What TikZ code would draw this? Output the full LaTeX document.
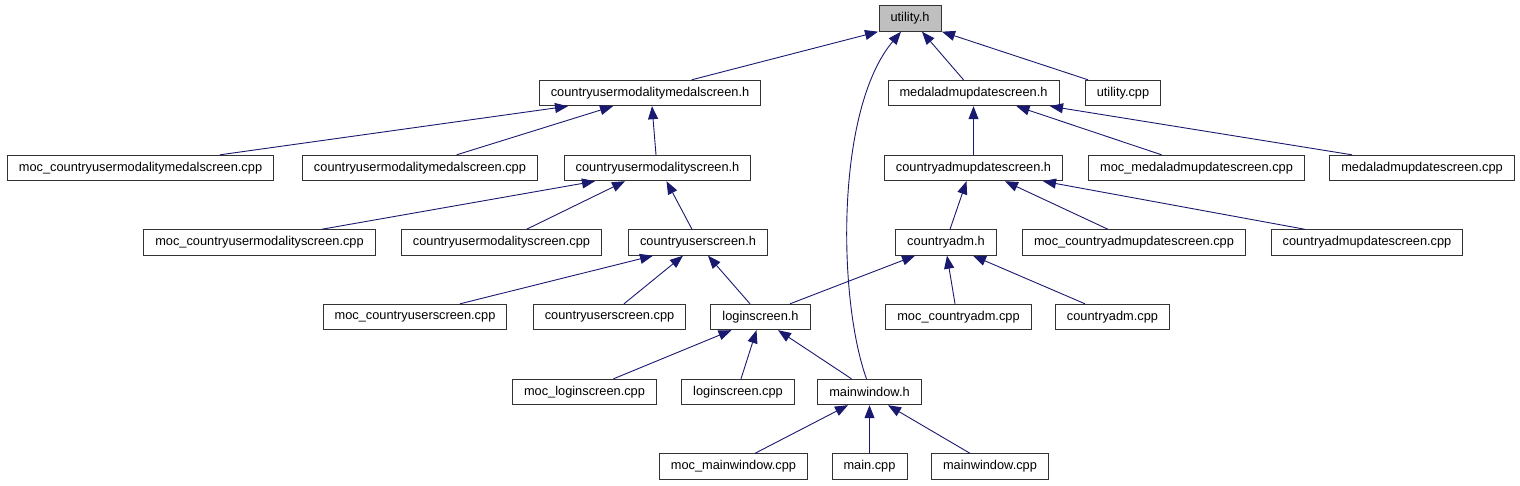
\documentclass[tikz,border=0pt]{standalone}
\usepackage{fontspec}
\setmainfont{Liberation Sans}
\usepackage{xcolor}
\usetikzlibrary{arrows.meta, positioning, calc}
\definecolor{edgeblue}{HTML}{191970}
\definecolor{rootgray}{HTML}{BFBFBF}

\begin{document}
\begin{tikzpicture}[x=1pt, y=-1pt,
    file/.style={draw=black!80, line width=0.9pt, rectangle, inner xsep=11.5pt, inner ysep=0pt,
        minimum height=25.5pt, font=\fontsize{12.8}{15}\selectfont},
    dep/.style={draw=edgeblue, line width=0.9pt, -{Triangle[length=13pt, width=10pt]}}]
    \useasboundingbox (0,0) rectangle (1520,485);

    \node[file, fill=rootgray] (util) at (910,18.5) {utility.h};

    \node[file] (cumms)   at (650,93)    {countryusermodalitymedalscreen.h};
    \node[file] (medal)   at (973.5,93)  {medaladmupdatescreen.h};
    \node[file] (utilcpp) at (1123,93)   {utility.cpp};

    \node[file] (moccummscpp) at (140.5,168)  {moc\_countryusermodalitymedalscreen.cpp};
    \node[file] (cummscpp)    at (420,168)    {countryusermodalitymedalscreen.cpp};
    \node[file] (cums)        at (657.5,168)  {countryusermodalityscreen.h};
    \node[file] (cadmup)      at (973.5,168)  {countryadmupdatescreen.h};
    \node[file] (mocmedalcpp) at (1196.5,168) {moc\_medaladmupdatescreen.cpp};
    \node[file] (medalcpp)    at (1422,168)   {medaladmupdatescreen.cpp};

    \node[file] (moccumscpp)   at (259.5,242.5) {moc\_countryusermodalityscreen.cpp};
    \node[file] (cumscpp)      at (501.5,242.5) {countryusermodalityscreen.cpp};
    \node[file] (cus)          at (698,242.5)   {countryuserscreen.h};
    \node[file] (cadm)         at (946,242.5)   {countryadm.h};
    \node[file] (moccadmupcpp) at (1134,242.5)  {moc\_countryadmupdatescreen.cpp};
    \node[file] (cadmupcpp)    at (1367,242.5)  {countryadmupdatescreen.cpp};

    \node[file] (moccuscpp)  at (415,317)    {moc\_countryuserscreen.cpp};
    \node[file] (cuscpp)     at (609.5,317)  {countryuserscreen.cpp};
    \node[file] (login)      at (760.5,317)  {loginscreen.h};
    \node[file] (moccadmcpp) at (958.5,317)  {moc\_countryadm.cpp};
    \node[file] (cadmcpp)    at (1112.5,317) {countryadm.cpp};

    \node[file] (moclogincpp) at (584.5,392) {moc\_loginscreen.cpp};
    \node[file] (logincpp)    at (738,392)   {loginscreen.cpp};
    \node[file] (mainw)       at (869.5,392) {mainwindow.h};

    \node[file] (mocmwcpp) at (733.5,466.5) {moc\_mainwindow.cpp};
    \node[file] (maincpp)  at (869.5,466.5) {main.cpp};
    \node[file] (mwcpp)    at (990,466.5)   {mainwindow.cpp};

    \draw[dep] ([xshift=41.7]cumms.north) -- ([xshift=-32]util.south);
    \draw[dep] ([xshift=-3]mainw.north) .. controls (838,300) and (835,110) .. ([xshift=-9]util.south);
    \draw[dep] ([xshift=-10]medal.north) -- ([xshift=12]util.south);
    \draw[dep] ([xshift=-35]utilcpp.north) -- ([xshift=32]util.south);

    \draw[dep] ([xshift=79.5]moccummscpp.north) -- ([xshift=-82]cumms.south);
    \draw[dep] ([xshift=36.7]cummscpp.north) -- ([xshift=-37]cumms.south);
    \draw[dep] ([xshift=-1.5]cums.north) -- ([xshift=2]cumms.south);

    \draw[dep] (cadmup.north) -- (medal.south);
    \draw[dep] ([xshift=-35]mocmedalcpp.north) -- ([xshift=43]medal.south);
    \draw[dep] ([xshift=-70]medalcpp.north) -- ([xshift=76.5]medal.south);

    \draw[dep] ([xshift=62]moccumscpp.north) -- ([xshift=-62.5]cums.south);
    \draw[dep] ([xshift=25]cumscpp.north) -- ([xshift=-32.5]cums.south);
    \draw[dep] ([xshift=-6]cus.north) -- ([xshift=9]cums.south);

    \draw[dep] ([xshift=4]cadm.north) -- ([xshift=-7]cadmup.south);
    \draw[dep] ([xshift=-26]moccadmupcpp.north) -- ([xshift=31.5]cadmup.south);
    \draw[dep] ([xshift=-62]cadmupcpp.north) -- ([xshift=69.5]cadmup.south);

    \draw[dep] ([xshift=45]moccuscpp.north) -- ([xshift=-45]cus.south);
    \draw[dep] ([xshift=14.5]cuscpp.north) -- ([xshift=-15]cus.south);
    \draw[dep] ([xshift=-10.5]login.north) -- ([xshift=10]cus.south);

    \draw[dep] ([xshift=29.5]login.north) -- ([xshift=-31]cadm.south);
    \draw[dep] ([xshift=-3.5]moccadmcpp.north) -- ([xshift=1]cadm.south);
    \draw[dep] ([xshift=-27.5]cadmcpp.north) -- ([xshift=27]cadm.south);

    \draw[dep] ([xshift=29]moclogincpp.north) -- ([xshift=-29]login.south);
    \draw[dep] ([xshift=3]logincpp.north) -- ([xshift=-4]login.south);
    \draw[dep] ([xshift=-18]mainw.north) -- ([xshift=17.5]login.south);

    \draw[dep] ([xshift=21.5]mocmwcpp.north) -- ([xshift=-21.5]mainw.south);
    \draw[dep] (maincpp.north) -- (mainw.south);
    \draw[dep] ([xshift=-20]mwcpp.north) -- ([xshift=18.5]mainw.south);
\end{tikzpicture}
\end{document}
